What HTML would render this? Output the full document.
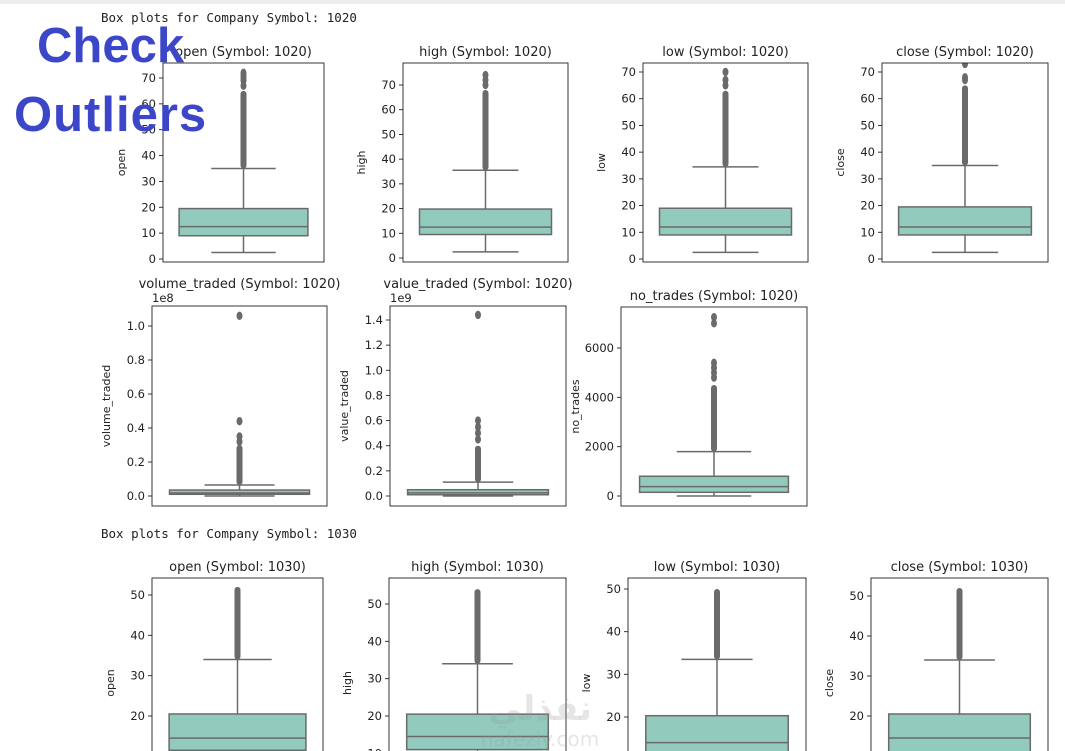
<!DOCTYPE html>
<html><head><meta charset="utf-8"><style>
html,body{margin:0;padding:0;background:#fff;width:1065px;height:751px;overflow:hidden}
svg text{font-family:"DejaVu Sans","Liberation Sans",sans-serif;fill:#222}
.mono{font-family:"DejaVu Sans Mono","Liberation Mono",monospace}
</style></head><body>
<svg id="c" width="1065" height="751">
<rect x="0" y="0" width="1065" height="4" fill="#eeeeee"/>
<text class="mono" x="101" y="22" font-size="12.5">Box plots for Company Symbol: 1020</text>
<text class="mono" x="101" y="538" font-size="12.5">Box plots for Company Symbol: 1030</text>
<g id="panels"></g>
<text x="37" y="62" font-size="49" font-weight="bold" style="fill:#3c46c9;font-family:'Liberation Sans',sans-serif">Check</text>
<text x="14" y="131" font-size="49" font-weight="bold" letter-spacing="1" style="fill:#3c46c9;font-family:'Liberation Sans',sans-serif">Outliers</text>
<text x="540" y="720" font-size="34" font-weight="bold" text-anchor="middle" style="fill:rgba(150,150,150,0.25)">نفذلي</text>
<text x="540" y="746" font-size="20" text-anchor="middle" style="fill:rgba(150,150,150,0.25)">nafezly.com</text>
</svg>
<script>
// data
const titles=["open (Symbol: 1020)","high (Symbol: 1020)","low (Symbol: 1020)","close (Symbol: 1020)","volume_traded  (Symbol: 1020)","value_traded (Symbol: 1020)","no_trades  (Symbol: 1020)","open (Symbol: 1030)","high (Symbol: 1030)","low (Symbol: 1030)","close (Symbol: 1030)"];
const ylabels=["open","high","low","close","volume_traded","value_traded","no_trades","open","high","low","close"];
const tickVals=[[0,10,20,30,40,50,60,70],[0,10,20,30,40,50,60,70],[0,10,20,30,40,50,60,70],[0,10,20,30,40,50,60,70],[0,0.2,0.4,0.6,0.8,1.0],[0,0.2,0.4,0.6,0.8,1.0,1.2,1.4],[0,2000,4000,6000],[10,20,30,40,50],[10,20,30,40,50],[10,20,30,40,50],[10,20,30,40,50]];
const tickLabels=[["0","10","20","30","40","50","60","70"],["0","10","20","30","40","50","60","70"],["0","10","20","30","40","50","60","70"],["0","10","20","30","40","50","60","70"],["0.0","0.2","0.4","0.6","0.8","1.0"],["0.0","0.2","0.4","0.6","0.8","1.0","1.2","1.4"],["0","2000","4000","6000"],["10","20","30","40","50"],["10","20","30","40","50"],["10","20","30","40","50"],["10","20","30","40","50"]];
const whiskLo=[2.5,2.5,2.5,2.5,0,0,0,5,5,5,5];
const q1=[9,9.5,9,9,0.01,0.01,150,11.5,11,11,11];
const med=[12.5,12.5,12,12,0.018,0.025,380,14.5,14.5,14,14.5];
const q3=[19.5,19.8,19,19.5,0.035,0.05,800,20.5,20.5,20.3,20.5];
const whiskHi=[35,35.5,34.5,35,0.065,0.11,1800,34,34,33.5,34];
const denseTop=[65,68,63,65,0.3,0.4,4500,52,54,50,52];
const extraOutliers=[[67,69,70,71,72],[70,72,74],[65,67,70],[67,68,73],[0.32,0.35,0.44,1.06],[0.45,0.5,0.55,0.6,1.44],[4800,5000,5200,5400,7000,7250],[],[],[],[]];
const exponents=["","","","","1e8","1e9","","","","",""];
// layout: axes rect and two reference (value,pixel) pairs for the scale
const layout=[
 {x:163,y:63,w:161,h:199,v0:0,p0:259,v1:70,p1:78},
 {x:403,y:63,w:165,h:199,v0:0,p0:258,v1:70,p1:85},
 {x:643,y:63,w:165,h:199,v0:0,p0:259,v1:70,p1:72},
 {x:882,y:63,w:166,h:199,v0:0,p0:259,v1:70,p1:72},
 {x:152,y:306,w:175,h:200,v0:0,p0:496,v1:1,p1:326},
 {x:390,y:306,w:176,h:200,v0:0,p0:496,v1:1.4,p1:320},
 {x:621,y:307,w:186,h:199,v0:0,p0:496,v1:6000,p1:348},
 {x:152,y:578,w:171,h:190,v0:20,p0:716,v1:50,p1:595},
 {x:389,y:578,w:177,h:190,v0:20,p0:716,v1:50,p1:604},
 {x:628,y:578,w:178,h:190,v0:20,p0:717,v1:50,p1:589},
 {x:871,y:578,w:177,h:190,v0:20,p0:716,v1:50,p1:596}];
const NS="http://www.w3.org/2000/svg";
const root=document.getElementById('panels');
function mk(tag,attrs,parent){const e=document.createElementNS(NS,tag);for(const k in attrs)e.setAttribute(k,attrs[k]);parent.appendChild(e);return e;}
const EDGE="#6a6a6a",FILL="#92cbbd";
for(let i=0;i<titles.length;i++){
 const L=layout[i];
 const y=v=>L.p0+(v-L.v0)*(L.p1-L.p0)/(L.v1-L.v0);
 const g=mk('g',{},root);
 
 
 const cp=mk('clipPath',{id:'cp'+i},g);mk('rect',{x:L.x,y:L.y,width:L.w,height:L.h},cp);
 const inner=mk('g',{'clip-path':'url(#cp'+i+')'},g);
 const cx=L.x+L.w/2,bw=L.w*0.8,cw=bw/2;
 const wl=mk('line',{x1:cx,x2:cx,y1:y(whiskHi[i]),y2:y(q3[i]),stroke:EDGE,'stroke-width':1.5},inner);
 
 const wl2=mk('line',{x1:cx,x2:cx,y1:y(q1[i]),y2:y(whiskLo[i]),stroke:EDGE,'stroke-width':1.5},inner);
 
 const c1=mk('line',{x1:cx-cw/2,x2:cx+cw/2,y1:y(whiskHi[i]),y2:y(whiskHi[i]),stroke:EDGE,'stroke-width':1.5},inner);
 
 const c2=mk('line',{x1:cx-cw/2,x2:cx+cw/2,y1:y(whiskLo[i]),y2:y(whiskLo[i]),stroke:EDGE,'stroke-width':1.5},inner);
 
 const db=mk('rect',{x:cx-3,y:y(denseTop[i]),width:6,height:y(whiskHi[i])-y(denseTop[i]),rx:3,fill:EDGE},inner);
 
 for(const v of extraOutliers[i]){
  const o=mk('ellipse',{cx:cx,cy:y(v),rx:3,ry:4.2,fill:EDGE},inner);
  
 }
 const bx=mk('rect',{x:cx-bw/2,y:y(q3[i]),width:bw,height:Math.max(2,y(q1[i])-y(q3[i])),fill:FILL,stroke:EDGE,'stroke-width':1.5},inner);
 
 const md=mk('line',{x1:cx-bw/2,x2:cx+bw/2,y1:y(med[i]),y2:y(med[i]),stroke:EDGE,'stroke-width':1.5},inner);
 
 const fr=mk('rect',{x:L.x,y:L.y,width:L.w,height:L.h,fill:'none',stroke:'#222','stroke-width':0.9},g);
 
 tickVals[i].forEach((v,k)=>{
  const py=y(v); if(py<L.y-1||py>L.y+L.h+1)return;
  mk('line',{x1:L.x-4,x2:L.x,y1:py,y2:py,stroke:'#222','stroke-width':0.9},g);
  const t=mk('text',{x:L.x-7,y:py+4,'font-size':11.5,'text-anchor':'end'},g);
  t.textContent=tickLabels[i][k];
  
  
 });
 const tt=mk('text',{x:cx,y:L.y-(exponents[i]?18:7),'font-size':13,'text-anchor':'middle'},g);
 tt.textContent=titles[i];
 
 
 if(exponents[i]){
  const ex=mk('text',{x:L.x,y:L.y-4,'font-size':11.5},g);ex.textContent=exponents[i];
  
  
 }
 const lblX=L.x-(i>=4&&i<=6?42:38), lblY=(i>=7?L.y+105:L.y+L.h/2);
 const yl=mk('text',{x:lblX,y:lblY,'font-size':11,'text-anchor':'middle',transform:'rotate(-90 '+lblX+' '+lblY+')'},g);
 yl.textContent=ylabels[i];
 
 
}
</script>
</body></html>
